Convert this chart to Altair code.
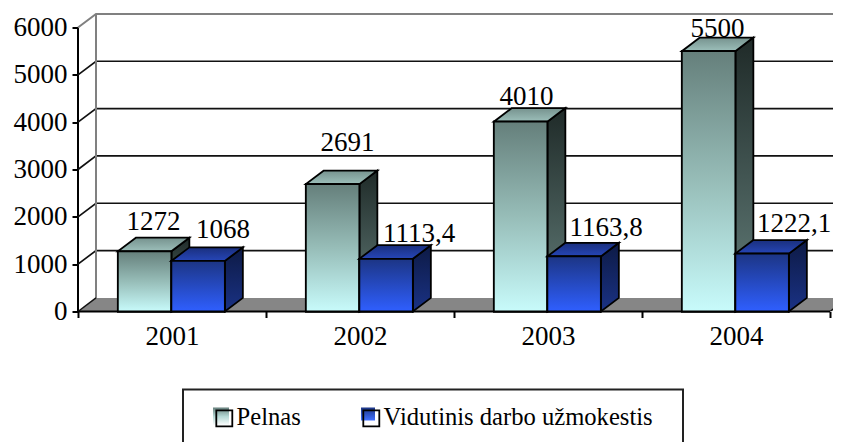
import altair as alt
import pandas as pd

YEARS = [2001, 2002, 2003, 2004]
SERIES = ["Pelnas", "Vidutinis darbo užmokestis"]
PELNAS = [1272, 2691, 4010, 5500]
ATLYGIS = [1068, 1113.4, 1163.8, 1222.1]
LABELS_P = ["1272", "2691", "4010", "5500"]
LABELS_A = ["1068", "1113,4", "1163,8", "1222,1"]
Y_TICKS = [0, 1000, 2000, 3000, 4000, 5000, 6000]

# geometry of the pseudo-3D projection
PX_X = 188.0
PX_Y = 284 / 6000
W_PX, H_PX = 755, 303
XMAX = W_PX / PX_X
YMAX = H_PX / PX_Y
DX = 18 / PX_X
DV = 13.6 / PX_Y
BAR = 53.5 / PX_X
START = 0.212
FONT = "Liberation Serif"

xs = alt.Scale(domain=[0, XMAX], nice=False, zero=False)
ys = alt.Scale(domain=[0, YMAX], nice=False, zero=False)
x_axis = alt.Axis(
    values=list(range(len(YEARS) + 1)), title=None, domain=False, grid=False,
    tickSize=6, tickWidth=2, tickColor="#000000",
    labelExpr=f"{YEARS}[datum.value] || ''", labelOffset=94, labelPadding=6,
    labelFont=FONT, labelFontSize=27, labelColor="#000000", labelFlush=False, labelOverlap=False)
y_axis = alt.Axis(
    values=Y_TICKS, title=None, domain=False, grid=False,
    tickSize=6, tickWidth=2, tickColor="#000000", labelPadding=5,
    labelFont=FONT, labelFontSize=27, labelColor="#000000", format="d")
X = alt.X("x:Q", scale=xs, axis=x_axis)
Y = alt.Y("y:Q", scale=ys, axis=y_axis)


def grad(top, bottom, mid=None):
    stops = [alt.GradientStop(color=top, offset=0)]
    if mid:
        stops.append(alt.GradientStop(color=mid, offset=0.5))
    stops.append(alt.GradientStop(color=bottom, offset=1))
    return alt.Gradient(gradient="linear", stops=stops, x1=0, x2=0, y1=0, y2=1)


def frames(values, offset, name):
    front, side, top = [], [], []
    for i, v in enumerate(values):
        x0 = i + offset
        x1 = x0 + BAR
        front.append(dict(x=x0, x2=x1, y=v, y2=0, series=name))
        side += [dict(x=x1, y=v, y2=0, bar=i), dict(x=x1 + DX, y=v + DV, y2=DV, bar=i)]
        top += [dict(y=v, x=x0, x2=x1, bar=i), dict(y=v + DV, x=x0 + DX, x2=x1 + DX, bar=i)]
    return pd.DataFrame(front), pd.DataFrame(side), pd.DataFrame(top)


def bar_layers(values, offset, name, f_grad, s_grad, t_grad):
    front, side, top = frames(values, offset, name)
    ln = dict(stroke="#000000", strokeWidth=1.8)
    return [
        alt.Chart(side).mark_area(fill=s_grad, orient="vertical", **ln).encode(
            x=X, y=Y, y2=alt.Y2("y2:Q"), detail="bar:N"),
        alt.Chart(top).mark_area(fill=t_grad, orient="horizontal", **ln).encode(
            y=Y, x=X, x2=alt.X2("x2:Q"), detail="bar:N"),
        alt.Chart(front).mark_bar(**ln).encode(
            x=X, x2=alt.X2("x2:Q"), y=Y, y2=alt.Y2("y2:Q"),
            # swatch fill comes from the gradient rectangles drawn beneath the legend
            color=alt.Color("series:N", scale=alt.Scale(domain=SERIES, range=["transparent", "transparent"]),
                            legend=alt.Legend(
                                title=None, orient="none", legendX=134, legendY=397.5, direction="horizontal",
                                columns=2, padding=0, symbolType="square", symbolSize=256,
                                symbolStrokeColor="#000000", symbolStrokeWidth=1.8,
                                labelFont=FONT, labelFontSize=24.6, labelColor="#000000",
                                labelLimit=400, labelOffset=0, columnPadding=58))),
        alt.Chart(front).mark_rect(fill=f_grad, **ln).encode(
            x=X, x2=alt.X2("x2:Q"), y=Y, y2=alt.Y2("y2:Q")),
    ]


# axes carrier
axis_df = pd.DataFrame({"x": [0], "x2": [4], "y": [0], "y2": [6000]})
axes = alt.Chart(axis_df).mark_rule(stroke="#000000", strokeWidth=2).encode(
    x=X, y=Y, y2=alt.Y2("y2:Q"))
x_line = alt.Chart(axis_df).mark_rule(stroke="#000000", strokeWidth=2).encode(
    x=X, x2=alt.X2("x2:Q"), y=Y)

# walls
grid_rows = []
for t in Y_TICKS[1:-1]:
    grid_rows += [dict(t=t, o=0, x=0, y=t), dict(t=t, o=1, x=DX, y=t + DV), dict(t=t, o=2, x=XMAX, y=t + DV)]
grid = alt.Chart(pd.DataFrame(grid_rows)).mark_line(stroke="#111111", strokeWidth=1.7).encode(
    x=X, y=Y, detail="t:N", order="o:Q")
wall_df = pd.DataFrame([
    dict(o=0, x=0, y=6000), dict(o=1, x=DX, y=6000 + DV), dict(o=2, x=XMAX, y=6000 + DV)])
wall_top = alt.Chart(wall_df).mark_line(stroke="#808080", strokeWidth=2).encode(x=X, y=Y, order="o:Q")
wall_left = alt.Chart(pd.DataFrame([dict(o=0, x=DX, y=DV), dict(o=1, x=DX, y=6000 + DV)])).mark_line(
    stroke="#808080", strokeWidth=2).encode(x=X, y=Y, order="o:Q")
floor_df = pd.DataFrame([dict(y=0, x=0, x2=4), dict(y=DV, x=DX, x2=4 + DX)])
floor = alt.Chart(floor_df).mark_area(fill="#868686", orient="horizontal", clip=True).encode(
    y=Y, x=X, x2=alt.X2("x2:Q"))
floor_edge = alt.Chart(pd.DataFrame([dict(o=0, x=0, y=0), dict(o=1, x=DX, y=DV)])).mark_line(
    stroke="#111111", strokeWidth=1.5).encode(x=X, y=Y, order="o:Q")
right_edge = alt.Chart(pd.DataFrame([dict(o=0, x=4, y=0), dict(o=1, x=4 + DX, y=DV)])).mark_line(
    stroke="#111111", strokeWidth=1.5, clip=True).encode(x=X, y=Y, order="o:Q")

# labels: hand-placed in the source chart, nudged in pixels from the bar's back top edge
NUDGE_P = [(0, 8), (6, 20), (-3, 3), (0, 1)]
NUDGE_A = [(16, 9.5), (24, 3), (23, 7), (23, 8)]
rows = []
for i in range(4):
    for vals, lab, off, nud in ((PELNAS, LABELS_P, START, NUDGE_P), (ATLYGIS, LABELS_A, START + BAR, NUDGE_A)):
        rows.append(dict(
            x=i + off + BAR / 2 + DX / 2 + nud[i][0] / PX_X,
            y=vals[i] + DV + nud[i][1] / PX_Y,
            t=lab[i]))
texts = alt.Chart(pd.DataFrame(rows)).mark_text(
    font=FONT, fontSize=27, color="#000000", baseline="alphabetic", align="center").encode(
    x=X, y=Y, text="t:N")

# legend frame and swatch shading (page furniture, not data)
frame = alt.Chart(axis_df).mark_rect(fillOpacity=0, stroke="#222222", strokeWidth=2).encode(
    x=alt.value(105), x2=alt.value(605), y=alt.value(381), y2=alt.value(460))
sw1 = alt.Chart(axis_df).mark_rect(fill=grad("#66807c", "#ffffff", "#b5d8d5")).encode(
    x=alt.value(135), x2=alt.value(151), y=alt.value(399), y2=alt.value(417))
sw2 = alt.Chart(axis_df).mark_rect(fill=grad("#1c3585", "#3f6fff")).encode(
    x=alt.value(283), x2=alt.value(297), y=alt.value(399), y2=alt.value(412))

layers = [axes, grid, wall_top, wall_left, floor, floor_edge, right_edge, x_line]
layers += bar_layers(PELNAS, START, SERIES[0], grad("#657f7b", "#c8fbfb", "#97bdb8"),
                     grad("#1f2a28", "#647f7b"), grad("#76928e", "#9cbfba"))
layers += bar_layers(ATLYGIS, START + BAR, SERIES[1], grad("#1c3585", "#2f5fff"),
                     grad("#0d1a45", "#1a3285"), grad("#1a2f7d", "#2646b8"))
layers += [texts, frame, sw1, sw2]

chart = alt.layer(*layers).properties(
    width=W_PX, height=H_PX,
    autosize=alt.AutoSizeParams(type="none"),
    padding={"left": 70, "top": 0.5, "right": 0, "bottom": 130.5},
    background="#ffffff",
).configure_view(stroke=None)

chart.save("out.html", embed_options={"renderer": "svg", "actions": False})
